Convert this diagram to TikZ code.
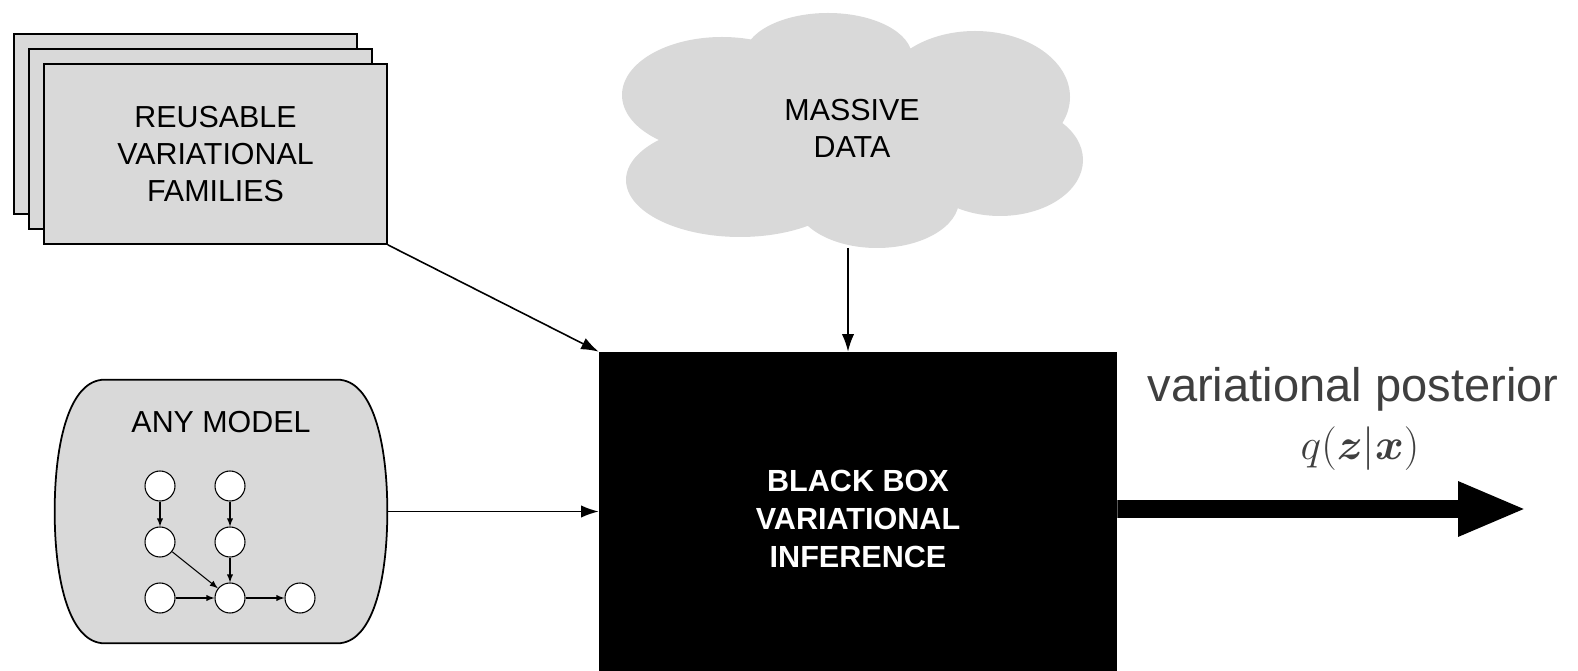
\documentclass[tikz,border=0pt]{standalone}
\usepackage{fontspec}
\setmainfont{Liberation Sans}
\usepackage{amsmath}
\usepackage{bm}
\usetikzlibrary{shadows,arrows.meta}
\definecolor{boxgray}{HTML}{D9D9D9}
\definecolor{postgray}{HTML}{3F3F3F}

\begin{document}
\begin{tikzpicture}[x=0.02cm, y=-0.02cm, >=latex,
    every node/.style = {font=\fontsize{17.3}{21}\selectfont, align=center},
    graybox/.style = {draw=black, fill=boxgray, line width=1pt},
    var/.style = {circle, draw=black, fill=white, minimum size=0.6cm,
        inner sep=0pt, line width=0.6pt},
    link/.style = {->, line width=0.9pt, >={Latex[length=10pt,width=7pt]}},
    edge/.style = {->, line width=0.6pt}]
    \useasboundingbox (0,0) rectangle (1578,671);
        % stacked families
        \node [graybox, minimum width=6.86cm, minimum height=3.6cm,
                double copy shadow={shadow xshift=-0.3cm, shadow yshift=0.3cm}]
            at (215.5,154) (fam) {REUSABLE\\VARIATIONAL\\FAMILIES};
        % model, barrel shape drawn round an empty node
        \node [minimum width=6.64cm, minimum height=5.26cm]
            at (221,511.5) (model) {};
        \draw [graybox] ([xshift=1cm]model.north west) -- ([xshift=-1cm]model.north east)
            .. controls +(0.7cm,0) and +(0,1.4cm) .. (model.east)
            .. controls +(0,-1.4cm) and +(0.7cm,0) .. ([xshift=-1cm]model.south east)
            -- ([xshift=1cm]model.south west)
            .. controls +(-0.7cm,0) and +(0,-1.4cm) .. (model.west)
            .. controls +(0,1.4cm) and +(-0.7cm,0) .. ([xshift=1cm]model.north west)
            -- cycle;
        \node at (221,422) (anymodel) {ANY MODEL};
        \node [var] at (160,486) (z1) {};
        \node [var] at (230,486) (z2) {};
        \node [var] at (160,542) (z3) {};
        \node [var] at (230,542) (z4) {};
        \node [var] at (160,598) (z5) {};
        \node [var] at (230,598) (z6) {};
        \node [var] at (300,598) (z7) {};
        \draw [edge] (z1) -- (z3);
        \draw [edge] (z2) -- (z4);
        \draw [edge] (z3) -- (z6);
        \draw [edge] (z4) -- (z6);
        \draw [edge] (z5) -- (z6);
        \draw [edge] (z6) -- (z7);
        % data: cloud made of puffs
        \fill [boxgray]
            (722,95) ellipse [x radius=100, y radius=58]
            (828,57) ellipse [x radius=84, y radius=44]
            (975,97) ellipse [x radius=95, y radius=66]
            (1000,160) ellipse [x radius=83, y radius=56]
            (877,200) ellipse [x radius=82, y radius=48]
            (740,180) ellipse [x radius=114, y radius=57]
            (852,130) ellipse [x radius=160, y radius=80];
        \node at (852,128) (data) {MASSIVE\\DATA};
        \coordinate (datafoot) at (848,248);
        % black box
        \node [fill=black, text=white, font=\bfseries\fontsize{17.4}{21.5}\selectfont,
                minimum width=10.36cm, minimum height=6.68cm]
            at (858,519) (bbvi) {BLACK BOX\\VARIATIONAL\\INFERENCE};
        \draw [link] (fam.south east) -- (bbvi.north west);
        \draw [link] (model.east) -- (model.east -| bbvi.west);
        \draw [link] (datafoot) -- (datafoot |- bbvi.north);
        % output
        \coordinate (out) at (1527,509);
        \draw [line width=10pt, -{Triangle[length=1.38cm, width=1cm]}]
            ([yshift=0.2cm]bbvi.east) -- (out);
        \node [text=postgray, font=\fontsize{26.8}{32}\selectfont, anchor=base]
            at (1353,402) (post) {variational posterior};
        \node [text=postgray, font=\fontsize{30}{36}\selectfont, anchor=base]
            at (1360,460) (postq) {$q(\bm{z}|\bm{x})$};
\end{tikzpicture}
\end{document}
